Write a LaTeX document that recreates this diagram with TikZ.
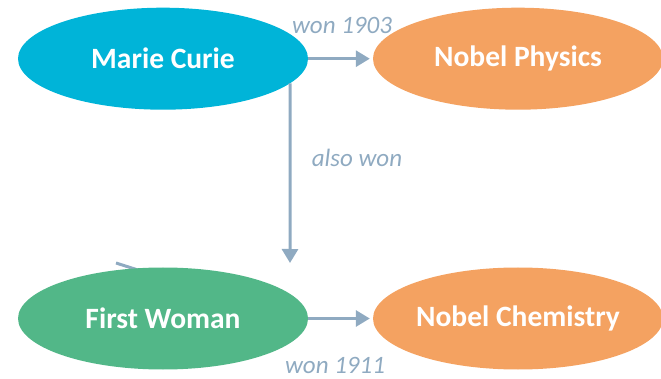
\documentclass[tikz,border=0pt]{standalone}
\usepackage{fontspec}
\setmainfont{Carlito}
\usetikzlibrary{shapes.geometric,arrows.meta}
\definecolor{cyanfill}{HTML}{00B4D8}
\definecolor{orangefill}{HTML}{F4A261}
\definecolor{greenfill}{HTML}{52B788}
\definecolor{edgecol}{HTML}{8FAAC1}
\begin{document}
\begin{tikzpicture}[x=1pt,y=-1pt,
  blob/.style={ellipse, inner sep=0pt, minimum width=290pt, minimum height=102pt,
    text=white, font=\fontsize{29.5}{32}\selectfont\bfseries},
  link/.style={edgecol, line width=3pt, -{Triangle[width=16pt,length=14pt]}},
  linklabel/.style={text=edgecol, font=\fontsize{25}{28}\selectfont\itshape, inner sep=0pt}]
  \useasboundingbox (0,0) rectangle (661,379);
  % stray connector behind the green node
  \coordinate (s1) at (116,263);
  \coordinate (s2) at (160,277);
  \draw[edgecol, line width=3pt] (s1) -- (s2);
  % nodes
  \node[blob, fill=cyanfill] (mc) at (163,58.7) {Marie Curie};
  \node[blob, fill=orangefill] (np) at (518,58.7) {Nobel Physics};
  \node[blob, fill=greenfill] (fw) at (163,318.5) {First Woman};
  \node[blob, fill=orangefill] (nc) at (518,318.5) {Nobel Chemistry};
  % connectors
  \draw[link, shorten >=3pt] (mc.east) -- (np.west);
  \coordinate (down) at (290,263);
  \draw[link] (mc.-11) -- (down);
  \draw[link, shorten >=3pt] (fw.east) -- (nc.west);
  % labels
  \node[linklabel] (l1) at (342,25) {won 1903};
  \node[linklabel] (l2) at (357,158) {also won};
  \node[linklabel] (l3) at (335,365) {won 1911};
\end{tikzpicture}
\end{document}
